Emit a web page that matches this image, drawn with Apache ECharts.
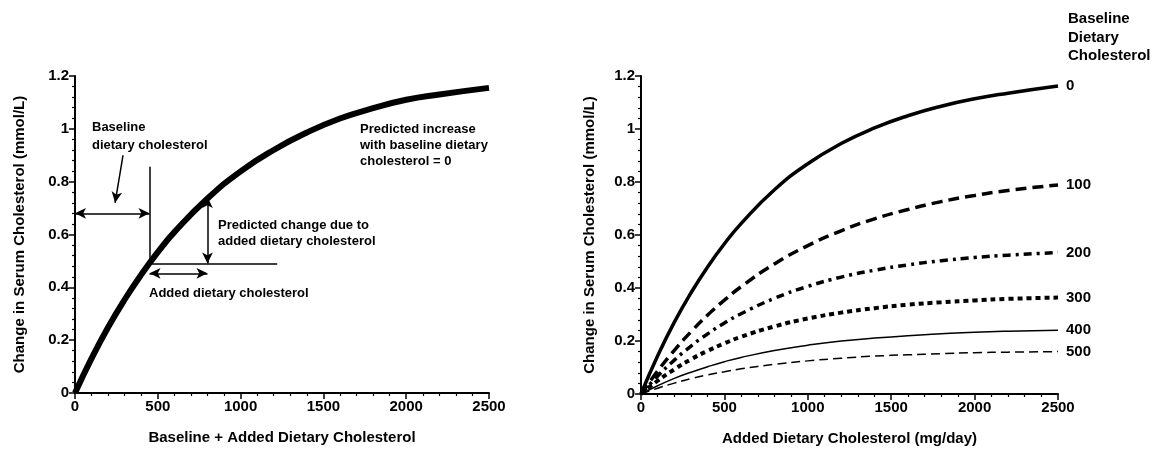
<!DOCTYPE html>
<html>
<head>
<meta charset="utf-8">
<script src="https://cdn.jsdelivr.net/npm/echarts@6/dist/echarts.min.js"></script>
<style>
html, body { margin: 0; background: #fff; }
#chart { width: 1157px; height: 453px; }
</style>
</head>
<body>
<div id="chart"></div>
<script>
// dietary cholesterol (mg/day) where the curves were read
var doses = [0, 100, 200, 300, 400, 500, 600, 800, 1000, 1200, 1400, 1600, 1800, 2000, 2200, 2500];

// left panel: baseline + added
var totalCurve = [0, 0.131, 0.249, 0.354, 0.448, 0.533, 0.609, 0.736, 0.839, 0.920, 0.986, 1.039, 1.078, 1.110, 1.130, 1.155];

// right panel, one curve per baseline intake
var baselineNames = ['0', '100', '200', '300', '400', '500'];
var base0   = [0, 0.144, 0.271, 0.382, 0.480, 0.567, 0.643, 0.771, 0.869, 0.945, 1.004, 1.050, 1.086, 1.114, 1.135, 1.162];
var base100 = [0, 0.087, 0.165, 0.235, 0.298, 0.354, 0.405, 0.491, 0.560, 0.616, 0.661, 0.696, 0.726, 0.749, 0.768, 0.789];
var base200 = [0, 0.068, 0.128, 0.181, 0.227, 0.268, 0.303, 0.361, 0.406, 0.441, 0.467, 0.487, 0.503, 0.515, 0.524, 0.534];
var base300 = [0, 0.050, 0.093, 0.131, 0.163, 0.191, 0.216, 0.255, 0.285, 0.307, 0.324, 0.337, 0.346, 0.353, 0.359, 0.364];
var base400 = [0, 0.031, 0.059, 0.082, 0.103, 0.122, 0.138, 0.164, 0.184, 0.200, 0.211, 0.220, 0.227, 0.233, 0.237, 0.241];
var base500 = [0, 0.022, 0.041, 0.058, 0.072, 0.084, 0.095, 0.112, 0.125, 0.135, 0.143, 0.148, 0.152, 0.156, 0.158, 0.160];
var rightCurves = [base0, base100, base200, base300, base400, base500];

// annotation points on the left panel (x, y in data units)
var baselineX = 450;
var startY = 0.49;
var addedX = 800;
var topY = 0.742;

var FONT = 'Liberation Sans';

function pairs(ys) {
    return doses.map(function (d, i) { return [d, ys[i]]; });
}

function xAxisOf(idx, title) {
    return {
        type: 'value', gridIndex: idx, min: 0, max: 2500, interval: 500,
        name: title, nameLocation: 'middle', nameGap: 37,
        nameTextStyle: { fontFamily: FONT, fontWeight: 'bold', fontSize: 15, color: '#000' },
        axisLine: { lineStyle: { color: '#000', width: 2 } },
        axisTick: { length: 6, lineStyle: { color: '#000', width: 1.5 } },
        minorTick: { show: true, splitNumber: 5, length: 3, lineStyle: { color: '#000', width: 1.2 } },
        axisLabel: {
            fontFamily: FONT, fontWeight: 'bold', fontSize: 15, color: '#000', margin: 6,
            formatter: function (v) { return String(v); }
        },
        splitLine: { show: false }
    };
}

function yAxisOf(idx, gap) {
    return {
        type: 'value', gridIndex: idx, min: 0, max: 1.2, interval: 0.2,
        name: 'Change in Serum Cholesterol (mmol/L)', nameLocation: 'middle', nameGap: gap,
        nameTextStyle: { fontFamily: FONT, fontWeight: 'bold', fontSize: 15, color: '#000' },
        axisLine: { show: true, lineStyle: { color: '#000', width: 2 } },
        axisTick: { show: true, length: 6, lineStyle: { color: '#000', width: 1.5 } },
        minorTick: { show: true, splitNumber: 5, length: 3, lineStyle: { color: '#000', width: 1.2 } },
        axisLabel: { fontFamily: FONT, fontWeight: 'bold', fontSize: 15, color: '#000', margin: 6 },
        splitLine: { show: false }
    };
}

var styles = [
    { width: 3.5, type: 'solid' },
    { width: 3.5, type: [11, 6] },
    { width: 3.5, type: [8, 5, 3, 5] },
    { width: 4, type: [5, 4] },
    { width: 1.5, type: 'solid' },
    { width: 1.5, type: [9, 5] }
];

var arrowLine = { color: '#000', width: 1.5, type: 'solid' };
function seg(x1, y1, x2, y2, s1, s2) {
    return [{ coord: [x1, y1], symbol: s1 }, { coord: [x2, y2], symbol: s2 }];
}

var series = [{
    type: 'line', xAxisIndex: 0, yAxisIndex: 0, data: pairs(totalCurve),
    smooth: true, showSymbol: false, lineStyle: { color: '#000', width: 6 },
    markLine: {
        silent: true, symbolSize: [8, 11], lineStyle: arrowLine, label: { show: false },
        data: [
            seg(0, 0.68, baselineX, 0.68, 'arrow', 'arrow'),
            seg(baselineX, startY, baselineX, 0.856, 'none', 'none'),
            seg(baselineX, startY, 1221, startY, 'none', 'none'),
            seg(addedX, startY, addedX, topY, 'arrow', 'arrow'),
            seg(baselineX, 0.453, addedX, 0.453, 'arrow', 'arrow'),
            seg(290, 0.90, 242, 0.72, 'none', 'arrow')
        ]
    }
}];

rightCurves.forEach(function (ys, i) {
    series.push({
        type: 'line', name: baselineNames[i], xAxisIndex: 1, yAxisIndex: 1,
        data: pairs(ys), smooth: true, showSymbol: false,
        lineStyle: { color: '#000', width: styles[i].width, type: styles[i].type, cap: 'butt' },
        endLabel: {
            show: true, formatter: '{a}', distance: 8,
            fontFamily: FONT, fontWeight: 'bold', fontSize: 15, color: '#000'
        }
    });
});

function note(left, top, text, size, lh) {
    return {
        type: 'text', left: left, top: top, silent: true,
        style: { text: text, fontFamily: FONT, fontWeight: 'bold', fontSize: size, lineHeight: lh, fill: '#000' }
    };
}

var myChart = echarts.init(document.getElementById('chart'));
option = {
    animation: false,
    backgroundColor: '#fff',
    grid: [
        { left: 75, right: 668, top: 76, bottom: 60 },
        { left: 641, right: 99, top: 76, bottom: 59 }
    ],
    xAxis: [xAxisOf(0, 'Baseline + Added Dietary Cholesterol'), xAxisOf(1, 'Added Dietary Cholesterol (mg/day)')],
    yAxis: [yAxisOf(0, 48), yAxisOf(1, 44)],
    series: series,
    graphic: [
        note(92, 118, 'Baseline\ndietary cholesterol', 13, 18),
        note(218, 217, 'Predicted change due to\nadded dietary cholesterol', 13, 16),
        note(149, 285, 'Added dietary cholesterol', 13, 16),
        note(360, 121, 'Predicted increase\nwith baseline dietary\ncholesterol = 0', 13, 16),
        note(1068, 10, 'Baseline\nDietary\nCholesterol', 15, 18.5)
    ]
};
myChart.setOption(option);
</script>
</body>
</html>
